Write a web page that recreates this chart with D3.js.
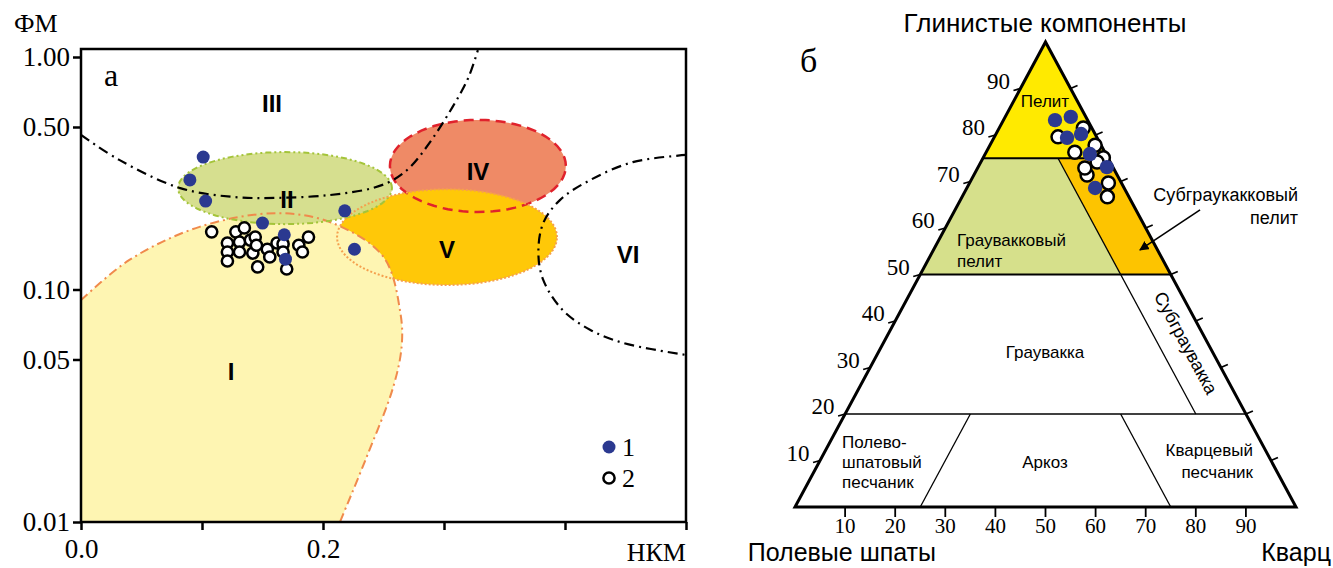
<!DOCTYPE html>
<html>
<head>
<meta charset="utf-8">
<script src="https://cdn.jsdelivr.net/npm/d3@7"></script>
<style>
  body { margin: 0; background: #fff; }
  svg { display: block; }
</style>
</head>
<body>
<div id="chart"></div>
<script>
// ---- data: panel а (НКМ vs ФМ, log y) ----
const yTicks = [1, 0.5, 0.1, 0.05, 0.01]
const yTickLabels = ["1.00", "0.50", "0.10", "0.05", "0.01"]
const xTicks = [0, 0.1, 0.2, 0.3, 0.4, 0.5]
const xTickLabels = ["0.0", "", "0.2", "", "", ""]

// blue points (group 1)
const group1 = [
  [0.101, 0.371], [0.090, 0.296], [0.103, 0.240], [0.150, 0.193],
  [0.168, 0.172], [0.169, 0.135], [0.218, 0.218], [0.226, 0.149]
]
// open points (group 2)
const group2 = [
  [0.108, 0.177], [0.128, 0.177], [0.135, 0.184], [0.121, 0.1585], [0.131, 0.160],
  [0.140, 0.163], [0.144, 0.168], [0.121, 0.145], [0.131, 0.145], [0.121, 0.1326],
  [0.142, 0.1435], [0.154, 0.149], [0.156, 0.138], [0.146, 0.125], [0.162, 0.1585],
  [0.167, 0.157], [0.170, 0.1225], [0.180, 0.155], [0.183, 0.145], [0.188, 0.168],
  [0.167, 0.145], [0.145, 0.155]
]

// field I outline (the rest is closed along the axes)
const fieldI = [
  [0, 0.090], [0.040, 0.134], [0.098, 0.186], [0.162, 0.213], [0.208, 0.193],
  [0.250, 0.138], [0.264, 0.079], [0.265, 0.057], [0.258, 0.038], [0.236, 0.019], [0.214, 0.01]
]
// ellipses: [centre x, centre y, radius x, radius y in decades]
const fieldII = [0.1686, 0.273, 0.0884, 0.155]
const fieldIV = [0.328, 0.340, 0.0727, 0.198]
const fieldV = [0.3025, 0.168, 0.0909, 0.206]

// dash-dot boundaries
const bound1 = [
  [0, 0.462], [0.032, 0.360], [0.082, 0.273], [0.126, 0.250], [0.164, 0.248],
  [0.206, 0.255], [0.241, 0.273], [0.258, 0.296], [0.272, 0.336], [0.288, 0.427],
  [0.307, 0.609], [0.320, 0.812], [0.328, 1.07]
]
const bound2 = [
  [0.500, 0.379], [0.456, 0.353], [0.421, 0.296], [0.396, 0.243], [0.382, 0.193],
  [0.378, 0.144], [0.382, 0.110], [0.398, 0.0816], [0.421, 0.0670], [0.448, 0.0589],
  [0.500, 0.0523]
]

// ---- data: panel б (ternary, [clay, quartz]) ----
const ternTicks = [10, 20, 30, 40, 50, 60, 70, 80, 90]
const tern1 = [
  [83.2, 10.3], [83.9, 13.1], [79.4, 14.6], [80.2, 17.0],
  [75.9, 20.9], [73.1, 25.7], [68.6, 25.6]
]
const tern2 = [
  [79.6, 12.7], [81.5, 16.8], [76.3, 17.7], [77.8, 21.0], [75.1, 24.0],
  [71.4, 22.6], [69.7, 27.7], [66.7, 29.0], [74.2, 23.2], [72.9, 21.4]
]

const W = 1333, H = 568
const BLUE = "#2b3990"
const serif = "'Liberation Serif', 'Times New Roman', serif"
const sans = "'Liberation Sans', Arial, sans-serif"

const svg = d3.select("#chart").append("svg")
  .attr("width", W).attr("height", H)
  .attr("viewBox", `0 0 ${W} ${H}`)

// ================= panel а =================
const x = d3.scaleLinear().domain([0, 0.5]).range([81, 686])
const y = d3.scaleLog().domain([0.01, 1]).range([522, 57])
const frameTop = 49

svg.append("clipPath").attr("id", "frame")
  .append("rect")
  .attr("x", x(0)).attr("y", frameTop)
  .attr("width", x(0.5) - x(0)).attr("height", y(0.01) - frameTop)

const gA = svg.append("g").attr("clip-path", "url(#frame)")

const curve = d3.line().x(d => x(d[0])).y(d => y(d[1])).curve(d3.curveCatmullRom)

const ellipse = (e) => {
  const [cx, cy, rx, ry] = e
  const pts = d3.range(0, 73).map(i => {
    const t = i / 72 * 2 * Math.PI
    return [cx + rx * Math.cos(t), cy * Math.pow(10, ry * Math.sin(t))]
  })
  return d3.line().x(d => x(d[0])).y(d => y(d[1]))(pts) + "Z"
}

const fieldIPath = curve(fieldI) + `L${x(0)},${y(0.01)}Z`

// fills
gA.append("path").attr("d", ellipse(fieldIV)).attr("fill", "#ef8a66")
gA.append("path").attr("d", ellipse(fieldV)).attr("fill", "#ffc808")
gA.append("path").attr("d", fieldIPath).attr("fill", "#fef5b2")
gA.append("path").attr("d", ellipse(fieldII)).attr("fill", "#d3dc86").attr("fill-opacity", 0.92)

// borders
gA.append("path").attr("d", curve(fieldI)).attr("fill", "none")
  .attr("stroke", "#f08a4c").attr("stroke-width", 2).attr("stroke-dasharray", "9,4,2,4")
gA.append("path").attr("d", ellipse(fieldII)).attr("fill", "none")
  .attr("stroke", "#a4c43a").attr("stroke-width", 2).attr("stroke-dasharray", "6,3,2,3,2,3")
gA.append("path").attr("d", ellipse(fieldIV)).attr("fill", "none")
  .attr("stroke", "#e0222c").attr("stroke-width", 2.5).attr("stroke-dasharray", "10,6")
gA.append("path").attr("d", ellipse(fieldV)).attr("fill", "none")
  .attr("stroke", "#f5a04e").attr("stroke-width", 2).attr("stroke-dasharray", "2,2")

// dash-dot boundaries
;[bound1, bound2].forEach(b => {
  gA.append("path").attr("d", curve(b)).attr("fill", "none")
    .attr("stroke", "#000").attr("stroke-width", 2.2).attr("stroke-dasharray", "10,5,2,5")
})

// field labels
const fieldLabels = [
  ["III", 272, 103], ["II", 287, 199], ["I", 231, 371],
  ["IV", 478, 171], ["V", 447, 249], ["VI", 628, 254]
]
gA.selectAll("text.field").data(fieldLabels).join("text")
  .attr("class", "field")
  .attr("x", d => d[1]).attr("y", d => d[2])
  .attr("dy", "0.36em")
  .attr("text-anchor", "middle")
  .attr("font-family", sans).attr("font-weight", "bold").attr("font-size", 24)
  .text(d => d[0])

// points
gA.selectAll("circle.g2").data(group2).join("circle")
  .attr("class", "g2")
  .attr("cx", d => x(d[0])).attr("cy", d => y(d[1])).attr("r", 5.6)
  .attr("fill", "#fff").attr("stroke", "#000").attr("stroke-width", 2.5)
gA.selectAll("circle.g1").data(group1).join("circle")
  .attr("class", "g1")
  .attr("cx", d => x(d[0])).attr("cy", d => y(d[1])).attr("r", 6.5)
  .attr("fill", BLUE)

// frame
svg.append("rect")
  .attr("x", x(0)).attr("y", frameTop)
  .attr("width", x(0.5) - x(0)).attr("height", y(0.01) - frameTop)
  .attr("fill", "none").attr("stroke", "#000").attr("stroke-width", 2.5)

// axes
const yAxis = svg.append("g")
  .attr("transform", `translate(${x(0)},0)`)
  .call(d3.axisLeft(y).tickValues(yTicks).tickFormat((d, i) => yTickLabels[i]).tickSize(8).tickPadding(3))
yAxis.select(".domain").remove()
yAxis.selectAll("line").attr("stroke-width", 2.5)
yAxis.selectAll("text").attr("font-family", serif).attr("font-size", 27).attr("fill", "#000")

const xAxis = svg.append("g")
  .attr("transform", `translate(0,${y(0.01)})`)
  .call(d3.axisBottom(x).tickValues(xTicks).tickFormat((d, i) => xTickLabels[i]).tickSize(8).tickPadding(9))
xAxis.select(".domain").remove()
xAxis.selectAll("line").attr("stroke-width", 2.5)
xAxis.selectAll("text").attr("font-family", serif).attr("font-size", 27).attr("fill", "#000")

svg.append("text").attr("x", x(0.5)).attr("y", 561).attr("text-anchor", "end")
  .attr("font-family", serif).attr("font-size", 26).text("НКМ")
svg.append("text").attr("x", 14).attr("y", 32)
  .attr("font-family", serif).attr("font-size", 26).text("ФМ")
svg.append("text").attr("x", 104).attr("y", 86)
  .attr("font-family", serif).attr("font-size", 32).text("а")

// legend
const legend = svg.append("g")
legend.append("circle").attr("cx", 609).attr("cy", 447).attr("r", 6.5).attr("fill", BLUE)
legend.append("circle").attr("cx", 609).attr("cy", 478).attr("r", 5.6)
  .attr("fill", "#fff").attr("stroke", "#000").attr("stroke-width", 2.5)
legend.append("text").attr("x", 622).attr("y", 456).attr("font-family", serif).attr("font-size", 26).text("1")
legend.append("text").attr("x", 622).attr("y", 487).attr("font-family", serif).attr("font-size", 26).text("2")

// ================= panel б =================
const tx = d3.scaleLinear().domain([0, 100]).range([795, 1296])
const ty = d3.scaleLinear().domain([0, 100]).range([507, 42])
const tp = (c, q) => [tx(q + c / 2), ty(c)]
const poly = pts => "M" + pts.map(p => tp(p[0], p[1]).join(",")).join("L") + "Z"
const seg = (a, b) => "M" + tp(a[0], a[1]).join(",") + "L" + tp(b[0], b[1]).join(",")

const gB = svg.append("g")

gB.append("path").attr("d", poly([[100, 0], [75, 0], [75, 25]])).attr("fill", "#ffea00")
gB.append("path").attr("d", poly([[75, 0], [50, 0], [50, 40], [75, 15]])).attr("fill", "#d6e08b")
gB.append("path").attr("d", poly([[75, 15], [50, 40], [50, 50], [75, 25]])).attr("fill", "#fdc400")

const innerLines = [
  [[75, 0], [75, 25], 1.8], [[50, 0], [50, 50], 1.8], [[20, 0], [20, 80], 1.4],
  [[75, 15], [20, 70], 1.3], [[0, 25], [20, 25], 1.3], [[0, 75], [20, 55], 1.3]
]
innerLines.forEach(l => {
  gB.append("path").attr("d", seg(l[0], l[1])).attr("stroke", "#000")
    .attr("stroke-width", l[2]).attr("fill", "none")
})

// ticks
ternTicks.forEach(v => {
  const [lx, ly] = tp(v, 0)
  gB.append("line").attr("x1", lx).attr("y1", ly).attr("x2", lx - 7).attr("y2", ly + 2)
    .attr("stroke", "#000").attr("stroke-width", 1.8)
  gB.append("text").attr("x", lx - 22).attr("y", ly - 8).attr("dy", "0.35em")
    .attr("text-anchor", "middle").attr("font-family", serif).attr("font-size", 23).text(v)
  const [rx, ry] = tp(v, 100 - v)
  gB.append("line").attr("x1", rx).attr("y1", ry).attr("x2", rx + 7).attr("y2", ry - 3)
    .attr("stroke", "#000").attr("stroke-width", 1.8)
  const [bx, by] = tp(0, v)
  gB.append("line").attr("x1", bx).attr("y1", by).attr("x2", bx).attr("y2", by + 10)
    .attr("stroke", "#000").attr("stroke-width", 1.8)
  gB.append("text").attr("x", bx).attr("y", by + 26)
    .attr("text-anchor", "middle").attr("font-family", serif).attr("font-size", 21).text(v)
})

gB.append("path").attr("d", poly([[0, 0], [0, 100], [100, 0]]))
  .attr("fill", "none").attr("stroke", "#000").attr("stroke-width", 3).attr("stroke-linejoin", "miter")

// labels
const tLabel = (txt, px, py, anchor, size) =>
  gB.append("text").attr("x", px).attr("y", py).attr("dy", "0.35em")
    .attr("text-anchor", anchor).attr("font-family", sans).attr("font-size", size).text(txt)

tLabel("Пелит", 1045, 101, "middle", 17)
tLabel("Граувакковый", 957, 240, "start", 17)
tLabel("пелит", 957, 261, "start", 17)
tLabel("Граувакка", 1045, 352, "middle", 17)
tLabel("Полево-", 842, 442, "start", 17)
tLabel("шпатовый", 842, 462, "start", 17)
tLabel("песчаник", 842, 482, "start", 17)
tLabel("Аркоз", 1045, 462, "middle", 17)
tLabel("Кварцевый", 1253, 450, "end", 17)
tLabel("песчаник", 1253, 472, "end", 17)
tLabel("Субграукакковый", 1298, 195, "end", 18)
tLabel("пелит", 1298, 218, "end", 18)

gB.append("text")
  .attr("transform", `translate(1186,343) rotate(61.7)`)
  .attr("dy", "0.35em").attr("text-anchor", "middle")
  .attr("font-family", sans).attr("font-size", 18).text("Субграувакка")

// arrow
svg.append("defs").append("marker").attr("id", "arr")
  .attr("viewBox", "0 0 10 10").attr("refX", 9).attr("refY", 5)
  .attr("markerWidth", 6).attr("markerHeight", 6).attr("orient", "auto")
  .append("path").attr("d", "M0,0L10,5L0,10Z").attr("fill", "#000")
const a0 = tp(63.9, 48.9), a1 = tp(55.3, 41.2)
gB.append("line").attr("x1", a0[0]).attr("y1", a0[1]).attr("x2", a1[0]).attr("y2", a1[1])
  .attr("stroke", "#000").attr("stroke-width", 1.6).attr("marker-end", "url(#arr)")

// points
gB.selectAll("circle.t2").data(tern2).join("circle")
  .attr("class", "t2")
  .attr("cx", d => tp(d[0], d[1])[0]).attr("cy", d => tp(d[0], d[1])[1]).attr("r", 6.5)
  .attr("fill", "#fff").attr("stroke", "#000").attr("stroke-width", 2.5)
gB.selectAll("circle.t1").data(tern1).join("circle")
  .attr("class", "t1")
  .attr("cx", d => tp(d[0], d[1])[0]).attr("cy", d => tp(d[0], d[1])[1]).attr("r", 7.2)
  .attr("fill", BLUE)

// titles
svg.append("text").attr("x", 1045).attr("y", 32).attr("text-anchor", "middle")
  .attr("font-family", sans).attr("font-size", 26).text("Глинистые компоненты")
svg.append("text").attr("x", 800).attr("y", 72)
  .attr("font-family", serif).attr("font-size", 34).text("б")
svg.append("text").attr("x", 936).attr("y", 561).attr("text-anchor", "end")
  .attr("font-family", sans).attr("font-size", 25).text("Полевые шпаты")
svg.append("text").attr("x", 1331).attr("y", 561).attr("text-anchor", "end")
  .attr("font-family", sans).attr("font-size", 25).text("Кварц")
</script>
</body>
</html>
